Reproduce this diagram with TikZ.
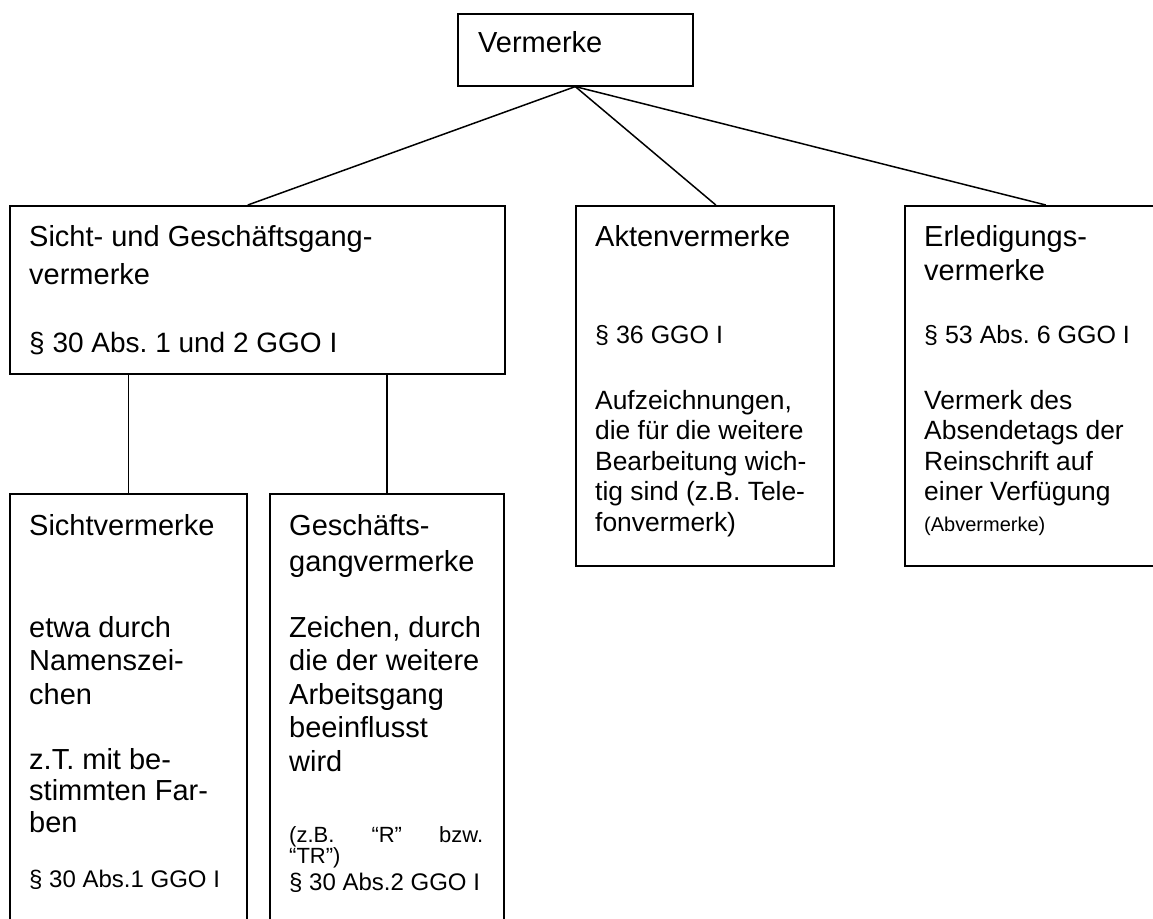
\documentclass[tikz,border=0pt]{standalone}
\usepackage{fontspec}
\setmainfont{Liberation Sans}
% stacked lines: font size, line distance, lines given as \hbox{...}
\newcommand\stackedlines[3]{\vtop{\fontsize{#1}{#2}\selectfont #3}}
\begin{document}
\frenchspacing
\begin{tikzpicture}[x=1pt,y=-1pt,
  box/.style={draw, line width=1.6pt, inner sep=0pt, anchor=north west},
  txt/.style={inner sep=0pt, anchor=base west, font=\frenchspacing},
  edge/.style={line width=1.5pt}]
\useasboundingbox (0,0) rectangle (1153,918);
\clip (0,0) rectangle (1153,918);

% boxes
\node[box, minimum width=235pt, minimum height=72pt]  (V)  at (457,13)  {};
\node[box, minimum width=495pt, minimum height=168pt] (S)  at (9,205)   {};
\node[box, minimum width=258pt, minimum height=360pt] (A)  at (575,205) {};
\node[box, minimum width=282pt, minimum height=360pt] (E)  at (904,205) {};
\node[box, minimum width=237pt, minimum height=440pt] (SV) at (9,493)   {};
\node[box, minimum width=234pt, minimum height=440pt] (GV) at (269,493) {};

% connectors
\draw[edge] (V.south) -- ([xshift=-9.5pt]S.north);
\draw[edge] (V.south) -- ([xshift=11pt]A.north);
\draw[edge] (V.south) -- (E.north);
\draw[edge] (SV.north) -- (SV.north |- S.south);
\draw[edge] (GV.north) -- (GV.north |- S.south);

% texts
\node[txt] (Vt) at (478,52) {\fontsize{29}{34}\selectfont Vermerke};

\node[txt] (St1) at (29,246) {\stackedlines{29}{38}{\hbox{Sicht- und Geschäftsgang-}\hbox{vermerke}}};
\node[txt] (St2) at (29,352) {\fontsize{28}{33}\selectfont § 30 Abs. 1 und 2 GGO I};

\node[txt] (At1) at (595,246) {\fontsize{29}{34}\selectfont Aktenvermerke};
\node[txt] (At2) at (595,343) {\fontsize{25}{30}\selectfont § 36 GGO I};
\node[txt] (At3) at (595,409.5) {\stackedlines{26.4}{30.4}{\hbox{Aufzeichnungen,}\hbox{die für die weitere}\hbox{Bearbeitung wich-}\hbox{tig sind (z.B. Tele-}\hbox{fonvermerk)}}};

\node[txt] (Et1) at (924,246) {\stackedlines{29}{34}{\hbox{Erledigungs-}\hbox{vermerke}}};
\node[txt] (Et2) at (924,343) {\fontsize{25}{30}\selectfont § 53 Abs. 6 GGO I};
\node[txt] (Et3) at (924,409.5) {\stackedlines{26.4}{30.4}{\hbox{Vermerk des}\hbox{Absendetags der}\hbox{Reinschrift auf}\hbox{einer Verfügung}}};
\node[txt] (Et4) at (924,531) {\fontsize{20}{24}\selectfont (Abvermerke)};

\node[txt] (SVt1) at (29,535) {\fontsize{29}{34}\selectfont Sichtvermerke};
\node[txt] (SVt2) at (29,637) {\stackedlines{29}{33.5}{\hbox{etwa durch}\hbox{Namenszei-}\hbox{chen}}};
\node[txt] (SVt3) at (29,769) {\stackedlines{29}{31.5}{\hbox{z.T. mit be-}\hbox{stimmten Far-}\hbox{ben}}};
\node[txt] (SVt4) at (29,887) {\fontsize{24}{28}\selectfont § 30 Abs.1 GGO I};

\node[txt] (GVt1) at (289,535) {\stackedlines{29}{36}{\hbox{Geschäfts-}\hbox{gangvermerke}}};
\node[txt] (GVt2) at (289,637) {\stackedlines{29}{33.5}{\hbox{Zeichen, durch}\hbox{die der weitere}\hbox{Arbeitsgang}\hbox{beeinflusst}\hbox{wird}}};
\node[txt] (GVt3) at (289,842) {\stackedlines{22}{17}{\hbox to 194pt{(z.B.\hfill “R”\hfill bzw.}\hbox{“TR”)}}};
\node[txt] (GVt4) at (289,890) {\fontsize{24}{28}\selectfont § 30 Abs.2 GGO I};
\end{tikzpicture}
\end{document}
